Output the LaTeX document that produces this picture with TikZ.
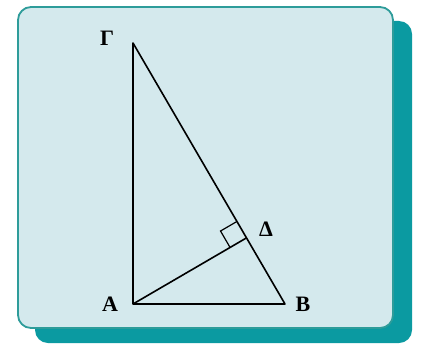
\documentclass[tikz,border=0pt]{standalone}
\usepackage{fontspec}
\setmainfont{Liberation Serif}
\usetikzlibrary{calc}
\definecolor{panelfill}{HTML}{D4E9ED}
\definecolor{panelline}{HTML}{2E9C9A}
\definecolor{panelshadow}{HTML}{0B9AA1}
\newcommand{\labfont}{\bfseries\fontsize{22pt}{24pt}\selectfont}

\begin{document}
\begin{tikzpicture}[
x=1pt,y=-1pt,
panel/.style={rounded corners=13pt},
side/.style={line width=1.6pt,line join=round},
lab/.style={font=\labfont,inner sep=0pt}
]
\useasboundingbox (0,0) rectangle (422,345);
\fill[panel,panelshadow] (35,21) rectangle (412,343);
\filldraw[panel,fill=panelfill,draw=panelline,line width=1.8pt] (18,7) rectangle (393,328);
\coordinate (A) at (133,304);
\coordinate (B) at (285,304);
\coordinate (G) at (133,43);
\coordinate (D) at ($(G)!(A)!(B)$);
\draw[side] (G)--(A)--(B)--cycle;
\draw[side] (A)--(D);
\coordinate (p1) at ($(D)!19pt!(G)$);
\coordinate (p2) at ($(D)!19pt!(A)$);
\draw[line width=1.2pt] (p1)--($(p1)+(p2)-(D)$)--(p2);
\node[lab] (labG) at (107,38) {Γ};
\node[lab] (labA) at (110,304) {A};
\node[lab] (labB) at (303,304) {B};
\node[lab] (labD) at (266,229) {Δ};
\end{tikzpicture}
\end{document}
